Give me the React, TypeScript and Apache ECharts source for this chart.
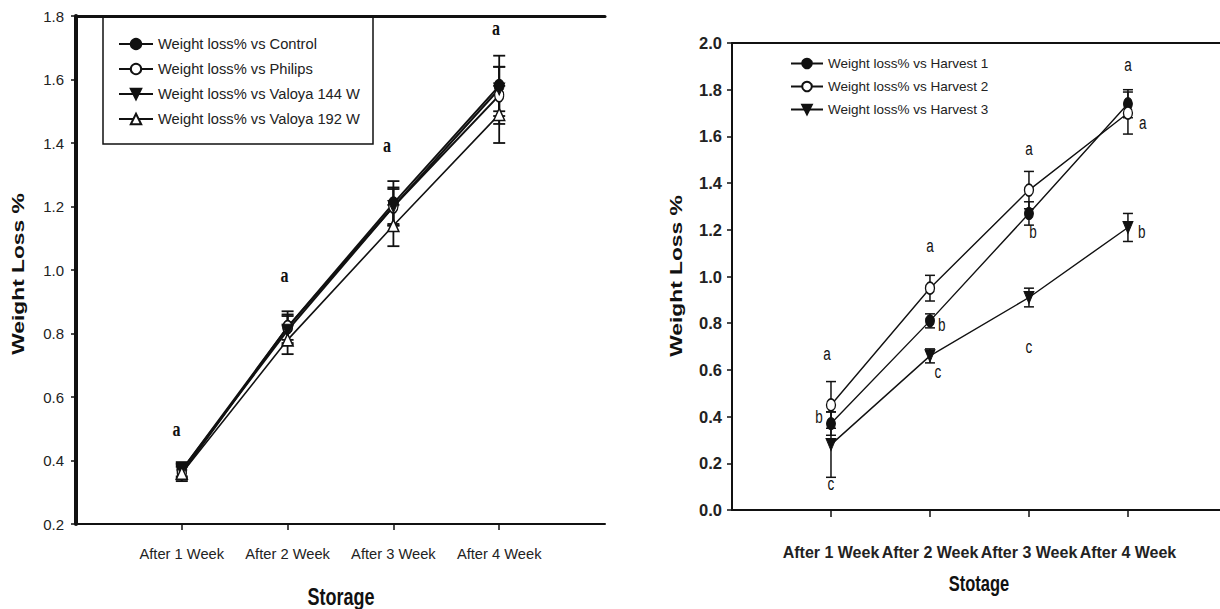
import React, { useEffect, useRef } from "react";
import * as echarts from "echarts";

// ---------- data ----------
const weekLabels = ["After 1 Week", "After 2 Week", "After 3 Week", "After 4 Week"];
const weeks = [1, 2, 3, 4];

// left panel
const leftNames = [
  "Weight loss% vs Control",
  "Weight loss% vs Philips",
  "Weight loss% vs Valoya 144 W",
  "Weight loss% vs Valoya 192 W",
];
const control = [0.37, 0.82, 1.21, 1.58];
const controlErr = [0.025, 0.05, 0.07, 0.095];
const philips = [0.36, 0.82, 1.2, 1.55];
const philipsErr = [0.02, 0.04, 0.055, 0.09];
const valoya144 = [0.37, 0.81, 1.2, 1.57];
const valoya144Err = [0.02, 0.045, 0.06, 0.07];
const valoya192 = [0.36, 0.78, 1.14, 1.49];
const valoya192Err = [0.025, 0.045, 0.065, 0.09];
const leftLetters: [number, number, string][] = [
  [0.95, 0.5, "a"],
  [1.97, 0.985, "a"],
  [2.94, 1.395, "a"],
  [3.97, 1.762, "a"],
];
const leftYTicks = [0.2, 1.8, 0.2]; // min, max, step

// right panel
const rightNames = [
  "Weight loss% vs Harvest 1",
  "Weight loss% vs Harvest 2",
  "Weight loss% vs Harvest 3",
];
const harvest1 = [0.37, 0.81, 1.27, 1.74];
const harvest1Err = [0.05, 0.03, 0.05, 0.06];
const harvest2 = [0.45, 0.95, 1.37, 1.7];
const harvest2Err = [0.1, 0.055, 0.08, 0.09];
const harvest3 = [0.28, 0.66, 0.91, 1.21];
const harvest3Err = [0.14, 0.03, 0.04, 0.06];
const rightLetters: [number, number, string][] = [
  [0.96, 0.67, "a"],
  [0.88, 0.4, "b"],
  [1.0, 0.11, "c"],
  [2.0, 1.13, "a"],
  [2.12, 0.795, "b"],
  [2.08, 0.59, "c"],
  [3.0, 1.545, "a"],
  [3.04, 1.19, "b"],
  [3.0, 0.7, "c"],
  [4.0, 1.905, "a"],
  [4.15, 1.66, "a"],
  [4.14, 1.19, "b"],
];
const rightYTicks = [0, 2, 0.2];

const SANS = '"Liberation Sans", Arial, sans-serif';
const SERIF = '"Liberation Serif", "Times New Roman", serif';
const INK = "#111";

// axis index pairs: [xAxisIndex, yAxisIndex]
const LEFT: [number, number] = [0, 0];
const RIGHT: [number, number] = [2, 1];

function errData(vals: number[], errs: number[]) {
  return weeks.map((w, i) => [w, vals[i], errs[i]]);
}

function errSeries(name: string, vals: number[], errs: number[], ax: [number, number], capW: number, lw: number) {
  return {
    type: "custom",
    name,
    xAxisIndex: ax[0],
    yAxisIndex: ax[1],
    z: 2,
    silent: true,
    data: errData(vals, errs),
    renderItem: (params: any, api: any) => {
      const x = api.value(0);
      const y = api.value(1);
      const e = api.value(2);
      const t = api.coord([x, y + e]);
      const b = api.coord([x, y - e]);
      const hw = capW / 2;
      const st = { stroke: INK, lineWidth: lw };
      return {
        type: "group",
        children: [
          { type: "line", shape: { x1: t[0], y1: t[1], x2: b[0], y2: b[1] }, style: st },
          { type: "line", shape: { x1: t[0] - hw, y1: t[1], x2: t[0] + hw, y2: t[1] }, style: st },
          { type: "line", shape: { x1: b[0] - hw, y1: b[1], x2: b[0] + hw, y2: b[1] }, style: st },
        ],
      };
    },
  };
}

function letterSeries(letters: [number, number, string][], ax: [number, number], font: string, sy: number) {
  return {
    type: "custom",
    xAxisIndex: ax[0],
    yAxisIndex: ax[1],
    z: 5,
    silent: true,
    data: letters.map((l) => [l[0], l[1]]),
    renderItem: (params: any, api: any) => {
      const p = api.coord([api.value(0), api.value(1)]);
      return {
        type: "text",
        x: p[0],
        y: p[1],
        scaleY: sy,
        style: {
          text: letters[params.dataIndex][2],
          font,
          fill: INK,
          align: "center",
          verticalAlign: "middle",
        },
      };
    },
  };
}

function lineSeries(name: string, vals: number[], ax: [number, number], kind: string, size: number[], lw: number) {
  const filled = kind === "dot" || kind === "down";
  return {
    type: "line",
    name,
    xAxisIndex: ax[0],
    yAxisIndex: ax[1],
    z: 3,
    data: weeks.map((w, i) => [w, vals[i]]),
    symbol: kind === "dot" || kind === "ring" ? "circle" : "triangle",
    symbolRotate: kind === "down" ? 180 : 0,
    symbolSize: size,
    showSymbol: true,
    lineStyle: { color: INK, width: lw },
    itemStyle: filled
      ? { color: INK, borderColor: INK, borderWidth: 1 }
      : { color: "#fff", borderColor: INK, borderWidth: 1.5 },
    emphasis: { disabled: true },
  };
}

function titleText(text: string, x: number, y: number, size: number, vertical: boolean) {
  return {
    type: "text",
    x,
    y,
    rotation: vertical ? Math.PI / 2 : 0,
    scaleX: vertical ? 1.34 : 1,
    scaleY: vertical ? 1 : 1.3,
    style: {
      text,
      font: `bold ${size}px ${SANS}`,
      fill: INK,
      align: "center",
      verticalAlign: "middle",
    },
  };
}

export default function App() {
  const ref = useRef<HTMLDivElement>(null);
  useEffect(() => {
    if (!ref.current) return;
    const chart = echarts.init(ref.current, undefined, { renderer: "svg" });
    const xLabelFmt = (v: number) => weekLabels[Math.round(v) - 1] ?? "";
    const option: any = {
      animation: false,
      backgroundColor: "#fff",
      grid: [
        { left: 76, top: 16, width: 529, height: 508, containLabel: false },
        { left: 732, top: 43, width: 488, height: 467, containLabel: false },
      ],
      xAxis: [
        {
          type: "value",
          gridIndex: 0,
          min: 0,
          max: 5,
          interval: 1,
          splitLine: { show: false },
          axisLine: { show: true, onZero: false, lineStyle: { color: INK, width: 2 } },
          axisTick: { show: true, customValues: weeks, length: 6, lineStyle: { color: INK, width: 1.5 } },
          axisLabel: {
            customValues: weeks,
            formatter: xLabelFmt,
            showMinLabel: true,
            showMaxLabel: true,
            margin: 22,
            color: "#222",
            fontFamily: SANS,
            fontSize: 14.7,
          },
        },
        {
          type: "value",
          gridIndex: 0,
          position: "top",
          min: 0,
          max: 5,
          splitLine: { show: false },
          axisLine: { show: true, onZero: false, lineStyle: { color: INK, width: 3 } },
          axisTick: { show: false },
          axisLabel: { show: false },
        },
        {
          type: "value",
          gridIndex: 1,
          min: 0,
          max: 4.93,
          interval: 1,
          splitLine: { show: false },
          axisLine: { show: true, onZero: false, lineStyle: { color: INK, width: 2 } },
          axisTick: { show: true, customValues: weeks, length: 7, lineStyle: { color: INK, width: 1.5 } },
          axisLabel: {
            customValues: weeks,
            formatter: xLabelFmt,
            showMinLabel: true,
            showMaxLabel: true,
            margin: 34,
            color: "#222",
            fontFamily: SANS,
            fontWeight: "bold",
            fontSize: 16,
          },
        },
        {
          type: "value",
          gridIndex: 1,
          position: "top",
          min: 0,
          max: 4.93,
          splitLine: { show: false },
          axisLine: { show: true, onZero: false, lineStyle: { color: INK, width: 2 } },
          axisTick: { show: false },
          axisLabel: { show: false },
        },
      ],
      yAxis: [
        {
          type: "value",
          gridIndex: 0,
          min: leftYTicks[0],
          max: leftYTicks[1],
          interval: leftYTicks[2],
          splitLine: { show: false },
          axisLine: { show: true, onZero: false, lineStyle: { color: INK, width: 4 } },
          axisTick: { show: true, length: 5, lineStyle: { color: INK, width: 1.5 } },
          axisLabel: {
            formatter: (v: number) => v.toFixed(1),
            margin: 12,
            color: "#222",
            fontFamily: SANS,
            fontSize: 15,
          },
        },
        {
          type: "value",
          gridIndex: 1,
          min: rightYTicks[0],
          max: rightYTicks[1],
          interval: rightYTicks[2],
          splitLine: { show: false },
          axisLine: { show: true, onZero: false, lineStyle: { color: INK, width: 2 } },
          axisTick: { show: true, length: 5, lineStyle: { color: INK, width: 1.5 } },
          axisLabel: {
            formatter: (v: number) => v.toFixed(1),
            margin: 10,
            color: "#222",
            fontFamily: SANS,
            fontWeight: "bold",
            fontSize: 16.5,
          },
        },
      ],
      legend: [
        {
          data: leftNames,
          orient: "vertical",
          left: 113,
          top: 30,
          itemWidth: 34,
          itemHeight: 13,
          itemGap: 7,
          selectedMode: false,
          textStyle: { fontFamily: SANS, fontSize: 14.7, color: "#222", lineHeight: 18 },
        },
        {
          data: rightNames,
          orient: "vertical",
          left: 785,
          top: 50,
          itemWidth: 32,
          itemHeight: 12,
          itemGap: 6,
          selectedMode: false,
          textStyle: { fontFamily: SANS, fontSize: 13.5, color: "#222", lineHeight: 17 },
        },
      ],
      graphic: [
        {
          type: "rect",
          shape: { x: 103, y: 17, width: 270, height: 127 },
          style: { fill: "none", stroke: INK, lineWidth: 1.5 },
          z: 10,
        },
        titleText("Weight Loss %", 18, 274, 17, true),
        titleText("Weight Loss %", 676, 276, 17, true),
        titleText("Storage", 341, 597, 18, false),
        titleText("Stotage", 979, 584, 16.5, false),
      ],
      series: [
        errSeries("e1", control, controlErr, LEFT, 12, 1.8),
        errSeries("e2", philips, philipsErr, LEFT, 12, 1.8),
        errSeries("e3", valoya144, valoya144Err, LEFT, 12, 1.8),
        errSeries("e4", valoya192, valoya192Err, LEFT, 12, 1.8),
        lineSeries(leftNames[0], control, LEFT, "dot", [10, 13], 2),
        lineSeries(leftNames[1], philips, LEFT, "ring", [9, 13], 2),
        lineSeries(leftNames[2], valoya144, LEFT, "down", [11, 12], 2),
        lineSeries(leftNames[3], valoya192, LEFT, "up", [11, 12], 1.6),
        letterSeries(leftLetters, LEFT, "bold 16px " + SERIF, 1.35),
        errSeries("r1", harvest1, harvest1Err, RIGHT, 10, 1.5),
        errSeries("r2", harvest2, harvest2Err, RIGHT, 10, 1.5),
        errSeries("r3", harvest3, harvest3Err, RIGHT, 10, 1.5),
        lineSeries(rightNames[0], harvest1, RIGHT, "dot", [9, 12], 1.4),
        lineSeries(rightNames[1], harvest2, RIGHT, "ring", [9, 12], 1.4),
        lineSeries(rightNames[2], harvest3, RIGHT, "down", [10, 12], 1.4),
        letterSeries(rightLetters, RIGHT, "13.5px " + SANS, 1.3),
      ],
    };
    chart.setOption(option);
    return () => chart.dispose();
  }, []);
  return (
    <div
      ref={ref}
      style={{ position: "fixed", left: 0, top: 0, width: 1220, height: 609, background: "#fff" }}
    />
  );
}
